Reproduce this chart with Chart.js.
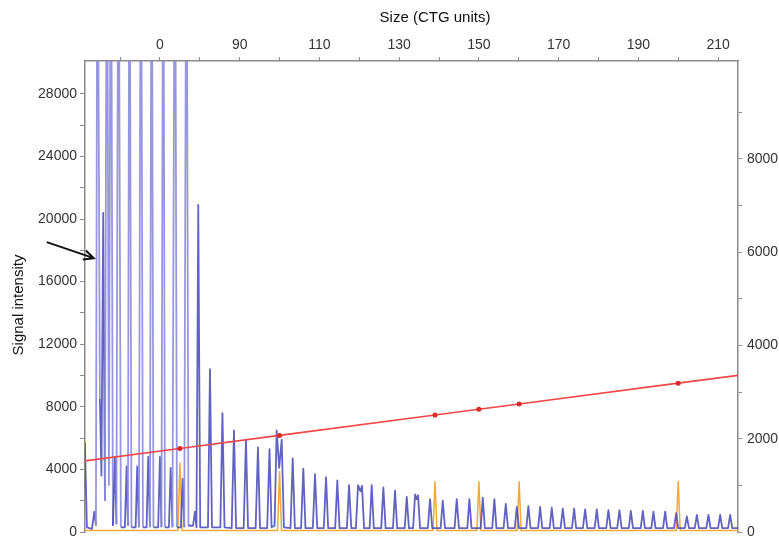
<!DOCTYPE html>
<html>
<head>
<meta charset="utf-8">
<script src="https://cdn.jsdelivr.net/npm/chart.js@4"></script>
<style>
  body { margin: 0; background: #fff; }
  #box { width: 779px; height: 538px; }
</style>
</head>
<body>
<div id="box"><canvas id="traceChart"></canvas></div>
<script>
// ---- data ----
// top axis (size, CTG units)
const sizeTicks = [60, 70, 80, 90, 100, 110, 120, 130, 140, 150, 160, 170, 180, 190, 200, 210];
const sizeLabels = ["", "0", "", "90", "", "110", "", "130", "", "150", "", "170", "", "190", "", "210"];
// left axis (signal intensity) and right axis
const intensityTicks = [0, 2000, 4000, 6000, 8000, 10000, 12000, 14000, 16000, 18000, 20000, 22000, 24000, 26000, 28000];
const rightTicks = [0, 1000, 2000, 3000, 4000, 5000, 6000, 7000, 8000, 9000];

// blue sample trace, vertices (size, signal)
const blueSize = [
  51.18, 51.68, 52.94, 53.56, 53.94, 54.32, 54.94, 55.32, 55.77, 56.2, 56.7, 57.2, 57.7, 58.2, 58.71, 59.08, 59.59,
  60.2, 61.2, 61.64, 61.97, 62.35, 62.85, 63.9, 64.3, 64.73, 65.23, 65.73, 66.65, 67.06, 67.49, 67.92, 68.37,
  69.55, 70.0, 70.38, 70.83, 71.25, 72.25, 72.69, 73.14, 73.76, 74.27, 75.25, 75.7, 76.1, 76.65, 77.15,
  78.3, 78.78, 79.16, 79.61, 80.1, 82.05, 82.55, 83.05, 85.15, 85.68, 86.2,
  88.0, 88.57, 89.1, 91.0, 91.58, 92.1, 94.0, 94.59, 95.1, 96.9, 97.48, 98.0,
  98.75, 99.28, 99.91, 100.54, 101.1, 102.75, 103.3, 103.85, 105.4, 105.96, 106.5,
  108.35, 108.9, 109.45, 111.1, 111.66, 112.2, 113.95, 114.49, 115.05, 116.9, 117.43, 118.0,
  119.15, 119.69, 120.31, 120.69, 121.2, 122.6, 123.12, 123.65, 125.5, 126.04, 126.6,
  128.45, 128.97, 129.5, 131.4, 131.91, 132.45, 133.5, 134.0, 134.37, 134.74, 135.25,
  137.2, 137.75, 138.3, 140.4, 140.94, 141.5, 143.9, 144.45, 145.0, 147.1, 147.62, 148.15,
  150.45, 150.98, 151.5, 153.35, 153.89, 154.4, 156.2, 156.75, 157.3, 159.0, 159.51, 160.05,
  161.9, 162.42, 162.95, 164.85, 165.36, 165.9, 167.75, 168.29, 168.8, 170.5, 171.05, 171.6,
  173.35, 173.89, 174.4, 176.1, 176.65, 177.2, 179.05, 179.58, 180.1, 181.95, 182.5, 183.05,
  184.7, 185.26, 185.8, 187.6, 188.12, 188.65, 190.6, 191.13, 191.65, 193.25, 193.79, 194.3,
  196.2, 196.73, 197.25, 198.95, 199.49, 200.0, 201.65, 202.17, 202.7, 204.15, 204.68, 205.2,
  207.05, 207.59, 208.1, 210.0, 210.53, 211.05, 212.5, 213.04, 213.55, 215.0
];
const blueSignal = [
  5700, 300, 200, 1300, 400, 45000, 8500, 3600, 20400, 2000, 45000, 3000, 45000, 400, 4800, 500, 45000,
  300, 300, 4200, 400, 45000, 300, 300, 4200, 300, 45000, 300, 300, 4800, 300, 45000, 300,
  300, 4800, 300, 45000, 300, 300, 4100, 300, 45000, 300, 300, 3400, 300, 45000, 400,
  400, 1300, 300, 20900, 300, 300, 10400, 300, 300, 7600, 300,
  250, 6500, 250, 250, 5900, 250, 250, 5400, 250, 250, 5300, 300,
  400, 6500, 4100, 5900, 300, 250, 4700, 250, 250, 4050, 250,
  250, 3700, 250, 250, 3500, 250, 250, 3300, 250, 250, 3000, 250,
  250, 3000, 2600, 2950, 250, 250, 3000, 250, 250, 2850, 250,
  250, 2650, 250, 250, 2250, 250, 250, 2400, 2100, 2350, 250,
  250, 2100, 250, 250, 2000, 250, 250, 2100, 250, 250, 2100, 250,
  250, 2200, 250, 250, 2100, 250, 250, 1800, 250, 250, 1600, 250,
  250, 1650, 250, 250, 1600, 250, 250, 1550, 250, 250, 1500, 250,
  250, 1500, 250, 250, 1450, 250, 250, 1450, 250, 250, 1400, 250,
  250, 1400, 250, 250, 1350, 250, 250, 1350, 250, 250, 1300, 250,
  250, 1300, 250, 250, 1200, 250, 250, 1000, 250, 250, 1100, 250,
  250, 1100, 250, 250, 1100, 250, 250, 1100, 250, 250
];

// orange size standard trace (right axis)
const stdSize = [51.2, 74.5, 75.02, 75.5, 99.5, 100.0, 100.5, 138.5, 139.0, 139.5, 149.5, 150.0, 150.5,
  159.6, 160.1, 160.6, 199.5, 200.0, 200.5, 215.0];
const stdSignal = [30, 30, 1480, 30, 30, 1300, 30, 30, 1080, 30, 30, 1080, 30,
  30, 1080, 30, 30, 1080, 30, 30];

// red sizing line (right axis), ends plus the standard points
const fitSize = [51.2, 75.0, 100.0, 139.0, 150.0, 160.1, 200.0, 215.0];
const fitValue = [1525, 1792, 2072, 2509, 2633, 2745, 3192, 3358];
const fitDot = [false, true, true, true, true, true, true, false];

const arrowTip = [53.4, 17500];
const FONT = '"Liberation Sans", Arial, sans-serif';

const toPoints = (xs, ys) => xs.map((x, i) => ({ x: x, y: ys[i] }));

const extras = {
  id: "extras",
  afterDraw(chart) {
    const { ctx, scales } = chart;
    ctx.save();
    ctx.fillStyle = "#111";
    ctx.font = "15px " + FONT;
    ctx.textAlign = "center";
    ctx.textBaseline = "middle";
    // top title, sits right of centre in the reference
    ctx.fillText("Size (CTG units)", scales.x.getPixelForValue(139), 18);
    // left title
    ctx.save();
    ctx.translate(19, 305);
    ctx.rotate(-Math.PI / 2);
    ctx.fillText("Signal intensity", 0, 0);
    ctx.restore();
    // arrow
    const tx = scales.x.getPixelForValue(arrowTip[0]);
    const ty = scales.y.getPixelForValue(arrowTip[1]);
    const sx = tx - 47, sy = ty - 16;
    const ang = Math.atan2(ty - sy, tx - sx);
    ctx.strokeStyle = "#111";
    ctx.lineWidth = 2;
    ctx.beginPath();
    ctx.moveTo(sx, sy);
    ctx.lineTo(tx, ty);
    ctx.moveTo(tx - 11 * Math.cos(ang - 0.45), ty - 11 * Math.sin(ang - 0.45));
    ctx.lineTo(tx, ty);
    ctx.lineTo(tx - 11 * Math.cos(ang + 0.45), ty - 11 * Math.sin(ang + 0.45));
    ctx.stroke();
    ctx.restore();
  }
};

const axisGrey = "#8a8a8a";
const noEdgePadding = axis => {
  axis.paddingTop = 0;
  axis.paddingBottom = 0;
  axis.paddingLeft = 0;
  axis.paddingRight = 0;
};

new Chart(document.getElementById("traceChart"), {
  type: "line",
  data: {
    datasets: [
      {
        label: "Sizing",
        data: toPoints(fitSize, fitValue),
        yAxisID: "y2",
        borderColor: "#f04646",
        backgroundColor: "#e02828",
        borderWidth: 1.6,
        pointRadius: fitDot.map(d => d ? 2.5 : 0),
        pointBorderWidth: 0,
        tension: 0,
        order: 0
      },
      {
        label: "Sample",
        data: toPoints(blueSize, blueSignal),
        yAxisID: "y",
        borderColor: "rgba(70, 70, 185, 0.85)",
        borderWidth: 1.8,
        borderJoinStyle: "round",
        pointRadius: 0,
        tension: 0,
        order: 1,
        segment: {
          borderColor: c => (c.p0.parsed.y > 22000 || c.p1.parsed.y > 22000)
            ? "rgba(140, 140, 222, 0.9)" : undefined
        }
      },
      {
        label: "Standard",
        data: toPoints(stdSize, stdSignal),
        yAxisID: "y2",
        borderColor: "#f2a93b",
        borderWidth: 1.5,
        borderJoinStyle: "round",
        pointRadius: 0,
        tension: 0,
        order: 2
      }
    ]
  },
  options: {
    responsive: true,
    maintainAspectRatio: false,
    animation: false,
    layout: { padding: { top: 0, left: 0, right: 0, bottom: 6 } },
    plugins: {
      legend: { display: false },
      tooltip: { enabled: false }
    },
    scales: {
      x: {
        type: "linear",
        position: "top",
        min: 51.2,
        max: 215,
        afterBuildTicks: axis => { axis.ticks = sizeTicks.map(v => ({ value: v })); },
        afterFit: axis => { axis.height = 61; noEdgePadding(axis); },
        grid: { drawOnChartArea: false, drawTicks: true, tickLength: 4, color: axisGrey },
        border: { display: true, color: axisGrey, width: 1.5 },
        ticks: {
          autoSkip: false,
          maxRotation: 0,
          padding: 3,
          color: "#333",
          font: { family: FONT, size: 14 },
          callback: value => sizeLabels[sizeTicks.indexOf(value)] ?? ""
        }
      },
      y: {
        position: "left",
        min: 0,
        max: 30100,
        afterBuildTicks: axis => { axis.ticks = intensityTicks.map(v => ({ value: v })); },
        afterFit: axis => { axis.width = 85; noEdgePadding(axis); },
        grid: { drawOnChartArea: false, drawTicks: true, tickLength: 5, color: axisGrey },
        border: { display: true, color: axisGrey, width: 1.5 },
        ticks: {
          padding: 3,
          color: "#333",
          font: { family: FONT, size: 14 },
          callback: value => (value % 4000 === 0 ? String(value) : "")
        }
      },
      y2: {
        position: "right",
        min: 0,
        max: 10100,
        afterBuildTicks: axis => { axis.ticks = rightTicks.map(v => ({ value: v })); },
        afterFit: axis => { axis.width = 41; noEdgePadding(axis); },
        grid: { drawOnChartArea: false, drawTicks: true, tickLength: 4, color: axisGrey },
        border: { display: true, color: axisGrey, width: 1.5 },
        ticks: {
          padding: 5,
          color: "#333",
          font: { family: FONT, size: 14 },
          callback: value => (value % 2000 === 0 ? String(value) : "")
        }
      }
    }
  },
  plugins: [extras]
});
</script>
</body>
</html>
